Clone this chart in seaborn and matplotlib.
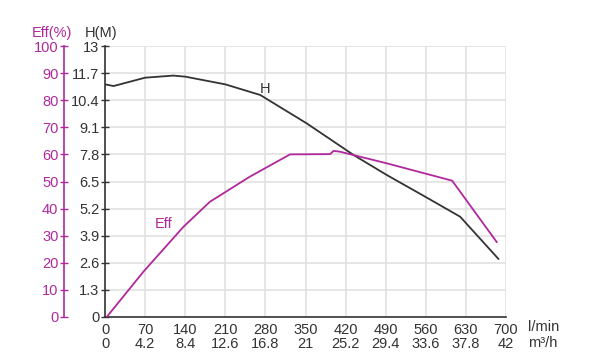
import matplotlib
matplotlib.use("Agg")
import matplotlib.pyplot as plt
import seaborn as sns
import pandas as pd

sns.set_theme(style="white")
plt.rcParams['font.family'] = ['Liberation Sans', 'DejaVu Sans']

# Data
h_flow = [0, 15, 70, 119, 140, 210, 271, 352, 434, 492, 559, 620, 687]
h_head = [11.16, 11.08, 11.48, 11.58, 11.53, 11.16, 10.65, 9.29, 7.77, 6.81, 5.77, 4.81, 2.78]
eff_flow = [3, 67, 137, 183, 253, 323, 393, 399, 410, 492, 606, 684]
eff_val = [0, 16.7, 33.3, 42.5, 51.8, 60.0, 60.1, 61.3, 61.0, 56.7, 50.3, 27.6]

x_ticks = [0, 70, 140, 210, 280, 350, 420, 490, 560, 630, 700]
x_labels2 = ["0", "4.2", "8.4", "12.6", "16.8", "21", "25.2", "29.4", "33.6", "37.8", "42"]
h_ticks = [0, 1.3, 2.6, 3.9, 5.2, 6.5, 7.8, 9.1, 10.4, 11.7, 13]
h_labels = ["0", "1.3", "2.6", "3.9", "5.2", "6.5", "7.8", "9.1", "10.4", "11.7", "13"]
eff_ticks = [0, 10, 20, 30, 40, 50, 60, 70, 80, 90, 100]

MAG = '#b0289c'
DARK = '#333333'
GRID = '#e2e2e2'
FS = 10.5

fig = plt.figure(figsize=(5.9, 3.6), dpi=100)
ax = fig.add_axes([105/590, 1-317/360, 401/590, 271/360])

dh = pd.DataFrame({"flow": h_flow, "head": h_head})
de = pd.DataFrame({"flow": eff_flow, "eff": eff_val})

ax2 = ax.twinx()
sns.lineplot(data=dh, x="flow", y="head", ax=ax, color=DARK, linewidth=1.3, sort=False)
sns.lineplot(data=de, x="flow", y="eff", ax=ax2, color=MAG, linewidth=1.3, sort=False)

ax.set_xlim(0, 700)
ax.set_ylim(0, 13)
ax2.set_ylim(0, 100)

ax.set_xticks(x_ticks)
ax.set_xticklabels([f"{a}\n{b}" for a, b in zip(x_ticks, x_labels2)], fontsize=FS, color=DARK, linespacing=1.0)
ax.set_yticks(h_ticks)
ax.set_yticklabels(h_labels, fontsize=FS, color=DARK)
ax.tick_params(axis='both', direction='inout', length=6, width=1, color=DARK, pad=1)
ax.grid(True, color=GRID, linewidth=1.2)
ax.set_axisbelow(True)
ax2.grid(False)
ax.set_xlabel("")
ax.set_ylabel("")
ax2.set_ylabel("")

for s in ['top', 'right']:
    ax.spines[s].set_visible(False)
for s in ['left', 'bottom']:
    ax.spines[s].set_color(DARK)
    ax.spines[s].set_linewidth(1.2)

# Eff axis on the left
for s in ['top', 'right', 'bottom']:
    ax2.spines[s].set_visible(False)
ax2.spines['left'].set_visible(True)
ax2.spines['left'].set_position(('axes', -41/401))
ax2.spines['left'].set_color(MAG)
ax2.spines['left'].set_linewidth(1.2)
ax2.yaxis.set_ticks_position('left')
ax2.yaxis.set_label_position('left')
ax2.set_yticks(eff_ticks)
ax2.set_yticklabels([str(t) for t in eff_ticks], fontsize=FS, color=MAG)
ax2.tick_params(axis='y', direction='inout', length=6, width=1, color=MAG, pad=1)

# Annotations
fig.text(72/590, 1-33/360, "Eff(%)", color=MAG, fontsize=FS, ha='right', va='center')
fig.text(85/590, 1-33/360, "H(M)", color=DARK, fontsize=FS, ha='left', va='center')
fig.text(528/590, 1-327/360, "l/min", color=DARK, fontsize=FS, ha='left', va='center')
fig.text(528/590, 1-343/360, "m³/h", color=DARK, fontsize=FS, ha='left', va='center')
fig.text(265/590, 1-89/360, "H", color=DARK, fontsize=FS, ha='center', va='center')
fig.text(164/590, 1-224/360, "Eff", color=MAG, fontsize=FS, ha='center', va='center')

fig.savefig("out.png", dpi=100)
